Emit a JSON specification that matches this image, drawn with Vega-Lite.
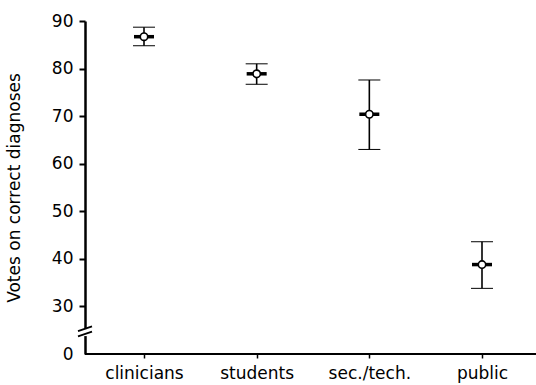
{
  "$schema": "https://vega.github.io/schema/vega-lite/v6.json",
  "width": 451,
  "height": 333,
  "autosize": {"type": "none"},
  "padding": {"left": 85, "top": 21, "right": 0, "bottom": 31},
  "background": "white",
  "config": {
    "view": {"stroke": null},
    "axis": {"labelFont": "DejaVu Sans", "titleFont": "DejaVu Sans", "labelColor": "black", "titleColor": "black", "domainColor": "black", "tickColor": "black"}
  },
  "datasets": {
    "votes": [
      {"group": "clinicians", "mean": 86.7, "lo": 84.8, "hi": 88.7},
      {"group": "students", "mean": 78.9, "lo": 76.7, "hi": 81.0},
      {"group": "sec./tech.", "mean": 70.4, "lo": 63.0, "hi": 77.6},
      {"group": "public", "mean": 38.8, "lo": 33.8, "hi": 43.6}
    ],
    "brk": [{"pos": 0, "end": 1, "val": 24.5, "base": 20}]
  },
  "resolve": {"scale": {"x": "independent"}, "axis": {"x": "independent"}},
  "layer": [
    {
      "data": {"name": "votes"},
      "encoding": {
        "x": {
          "field": "group", "type": "nominal", "sort": null,
          "scale": {"type": "point", "range": [59, 397], "padding": 0},
          "axis": {
            "title": null, "labelAngle": 0, "labelFontSize": 17, "labelPadding": 7,
            "tickSize": 4, "tickWidth": 1.5, "domain": false, "orient": "bottom"
          }
        },
        "y": {
          "type": "quantitative",
          "scale": {"domain": [20, 90], "nice": false, "zero": false},
          "axis": {
            "title": "Votes on correct diagnoses", "titleFontSize": 17, "titleFontWeight": "normal",
            "titlePadding": 28,
            "values": [20, 30, 40, 50, 60, 70, 80, 90],
            "labelExpr": "datum.value == 20 ? '0' : datum.label",
            "labelFontSize": 17, "labelPadding": 6,
            "tickSize": 6, "tickWidth": 2, "domainWidth": 2.5,
            "tickOpacity": {"condition": {"test": "datum.value == 20", "value": 0}, "value": 1},
            "grid": false
          }
        }
      },
      "layer": [
        {
          "mark": {"type": "rule", "color": "black", "strokeWidth": 1.6, "opacity": 1},
          "encoding": {"y": {"field": "lo", "type": "quantitative"}, "y2": {"field": "hi"}}
        },
        {
          "mark": {"type": "tick", "color": "black", "size": 22, "orient": "horizontal", "opacity": 1},
          "encoding": {
            "y": {"field": "lo", "type": "quantitative"},
            "strokeWidth": {"condition": {"test": "datum.group == 'clinicians' || datum.group == 'students'", "value": 3}, "value": 2}
          }
        },
        {
          "mark": {"type": "tick", "color": "black", "size": 22, "orient": "horizontal", "opacity": 1},
          "encoding": {
            "y": {"field": "hi", "type": "quantitative"},
            "strokeWidth": {"condition": {"test": "datum.group == 'clinicians' || datum.group == 'students'", "value": 3}, "value": 2}
          }
        },
        {
          "mark": {"type": "tick", "color": "black", "size": 20, "thickness": 3.5, "orient": "horizontal", "opacity": 1},
          "encoding": {"y": {"field": "mean", "type": "quantitative"}}
        },
        {
          "mark": {"type": "point", "shape": "circle", "filled": false, "fill": "white", "stroke": "black", "strokeWidth": 1.6, "size": 55, "opacity": 1},
          "encoding": {"y": {"field": "mean", "type": "quantitative"}}
        }
      ]
    },
    {
      "data": {"name": "brk"},
      "encoding": {
        "x": {"field": "pos", "type": "quantitative", "scale": {"domain": [0, 1]}, "axis": null}
      },
      "layer": [
        {
          "mark": {"type": "rule", "color": "black", "strokeWidth": 2.2, "opacity": 1},
          "encoding": {
            "x2": {"field": "end"},
            "y": {"field": "base", "type": "quantitative"}
          }
        },
        {
          "mark": {"type": "point", "shape": "M-0.4,-0.5L0.4,-0.5L0.4,0.5L-0.4,0.5Z", "filled": true, "color": "white", "opacity": 1, "size": 196, "strokeWidth": 0},
          "encoding": {"y": {"field": "val", "type": "quantitative"}}
        },
        {
          "mark": {"type": "point", "shape": "M-1,-0.2L1,-0.9M-1,0.55L1,-0.15", "filled": false, "color": "black", "opacity": 1, "size": 196, "strokeWidth": 1.8},
          "encoding": {"y": {"field": "val", "type": "quantitative"}}
        }
      ]
    }
  ]
}
